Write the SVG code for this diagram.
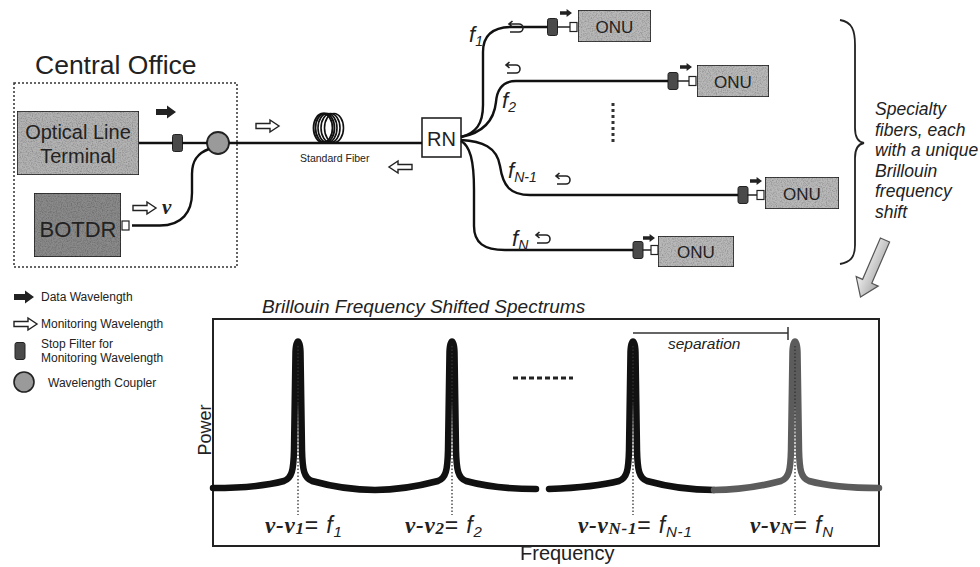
<svg xmlns="http://www.w3.org/2000/svg" xmlns:xlink="http://www.w3.org/1999/xlink" width="980" height="567" viewBox="0 0 980 567">
<style>
text{font-family:"Liberation Sans",Arial,sans-serif;fill:#222}
.box{stroke:#222;stroke-width:1.6}
.olt{fill:#b3b3b3}
.bot{fill:#8a8a8a}
.onu{fill:#b9b9b9}
.fib{fill:none;stroke:#111;stroke-width:2.4}
.leg{font-size:12px}
.it{font-style:italic}
.sv{font-family:"Liberation Serif","Times New Roman",serif;font-style:italic;font-weight:bold}
.spec{fill:none;stroke-width:6.5;stroke-linecap:round;stroke-linejoin:round}
.dot{stroke:#333;stroke-width:1.3;stroke-dasharray:1.5,2}
.lab{font-size:23px;letter-spacing:0.8px}
</style>
<defs>
<filter id="tex" x="0" y="0" width="1" height="1">
<feTurbulence type="fractalNoise" baseFrequency="0.8" numOctaves="2" seed="3" result="n"/>
<feColorMatrix in="n" type="matrix" values="0 0 0 0 0  0 0 0 0 0  0 0 0 0 0  0 0 0 -0.9 0.55" result="a"/>
<feComposite in="a" in2="SourceGraphic" operator="in" result="t"/>
<feMerge><feMergeNode in="SourceGraphic"/><feMergeNode in="t"/></feMerge>
</filter>
<path id="ha" d="M0,-2.5 H14 V-6 L23,0 L14,6 V2.5 H0 Z" fill="#fff" stroke="#222" stroke-width="1.4"/>
<path id="fa" d="M0,-3 H11 V-6.5 L20,0 L11,6.5 V3 H0 Z" fill="#222"/>
<rect id="flt" x="-5" y="-8.5" width="10" height="17" rx="2" fill="#4a4a4a" stroke="#222" stroke-width="1"/>
<rect id="port" x="0" y="0" width="7" height="9" fill="#fff" stroke="#222" stroke-width="1.2"/>
<path id="ut" d="M3.5,-3 L0,0 L3.5,3 M0,0 H10 A4,4 0 0 1 10,8 H1" fill="none" stroke="#222" stroke-width="1.6"/>
<linearGradient id="bg" x1="0" y1="0" x2="1" y2="0">
<stop offset="0" stop-color="#f2f2f2"/><stop offset="1" stop-color="#a8a8a8"/>
</linearGradient>
</defs>

<!-- Central office -->
<g id="central-office">
<text x="35" y="74" font-size="26.5">Central Office</text>
<rect x="14" y="83" width="223" height="184" fill="none" stroke="#333" stroke-width="1.5" stroke-dasharray="2,2"/>
</g>
<g id="olt">
<rect class="box olt" x="17" y="111" width="122" height="64" filter="url(#tex)"/>
<text x="78" y="139" font-size="20" text-anchor="middle">Optical Line</text>
<text x="78" y="163" font-size="20" text-anchor="middle">Terminal</text>
</g>
<g id="botdr">
<rect class="box bot" x="34" y="193" width="87" height="64" filter="url(#tex)"/>
<text x="78" y="237" font-size="22" text-anchor="middle">BOTDR</text>
<use href="#port" x="122" y="221"/>
</g>
<g id="olt-filter"><use href="#flt" x="177.5" y="143"/></g>
<g id="coupler"><circle cx="218" cy="143" r="11" fill="#9a9a9a" stroke="#222" stroke-width="1.8"/></g>
<g id="rn">
<rect x="422" y="118" width="39" height="39" fill="#fff" stroke="#222" stroke-width="1.6"/>
<text x="441.5" y="146" font-size="20" text-anchor="middle">RN</text>
</g>
<g id="coil">
<ellipse cx="323" cy="128" rx="9.5" ry="14.5" fill="none" stroke="#111" stroke-width="1.8"/>
<ellipse cx="325" cy="128" rx="9.5" ry="14.5" fill="none" stroke="#111" stroke-width="1.8"/>
<ellipse cx="327.5" cy="128" rx="9.5" ry="14.5" fill="none" stroke="#111" stroke-width="1.6"/>
<ellipse cx="330.5" cy="128" rx="9.5" ry="14.5" fill="none" stroke="#111" stroke-width="1.6"/>
<ellipse cx="334" cy="128" rx="9.5" ry="14.5" fill="none" stroke="#111" stroke-width="1.6"/>
<text x="300" y="162" font-size="10.5" fill="#333">Standard Fiber</text>
</g>

<!-- ONUs -->
<g id="onu1">
<use href="#flt" x="552.5" y="27"/>
<line x1="557" y1="27" x2="570" y2="27" stroke="#222" stroke-width="1.5"/>
<use href="#port" x="570" y="22.5"/>
<rect class="box onu" x="578" y="10" width="73" height="32" filter="url(#tex)"/>
<text x="614.5" y="32.5" font-size="17" text-anchor="middle">ONU</text>
<use href="#fa" transform="translate(560,13) scale(0.6)"/>
</g>
<g id="onu2">
<use href="#flt" x="673" y="81"/>
<line x1="677.5" y1="81" x2="689" y2="81" stroke="#222" stroke-width="1.5"/>
<use href="#port" x="689" y="76.5"/>
<rect class="box onu" x="697" y="65" width="72" height="32" filter="url(#tex)"/>
<text x="733" y="87.5" font-size="17" text-anchor="middle">ONU</text>
<use href="#fa" transform="translate(680,67) scale(0.6)"/>
</g>
<g id="onu3">
<use href="#flt" x="743" y="195"/>
<line x1="747.5" y1="195" x2="757" y2="195" stroke="#222" stroke-width="1.5"/>
<use href="#port" x="757" y="190.5"/>
<rect class="box onu" x="765" y="177" width="74" height="32" filter="url(#tex)"/>
<text x="802" y="199.5" font-size="17" text-anchor="middle">ONU</text>
<use href="#fa" transform="translate(750,181) scale(0.6)"/>
</g>
<g id="onu4">
<use href="#flt" x="638" y="250"/>
<line x1="642.5" y1="250" x2="651" y2="250" stroke="#222" stroke-width="1.5"/>
<use href="#port" x="651" y="245.5"/>
<rect class="box onu" x="658" y="236" width="76" height="31" filter="url(#tex)"/>
<text x="696" y="257.5" font-size="17" text-anchor="middle">ONU</text>
<use href="#fa" transform="translate(643,238) scale(0.6)"/>
</g>

<!-- connectors (fibers) -->
<g id="connectors">
<path class="fib" d="M139,143 H173"/>
<path class="fib" d="M182,143 H207"/>
<path class="fib" d="M132,225.5 H160 C182,225.5 192,212 192,193 L192,174 C192,160 198,153 209,149"/>
<path class="fib" d="M229,143 H422"/>
<path class="fib" d="M461,137 C476,133 483,124 483,105 L483,52 C483,36 492,27 512,27 L547.5,27"/>
<path class="fib" d="M461,137 C482,133 494,121 496,102 C497,89 503,81 516,81 L668,81"/>
<path class="fib" d="M461,140 C482,141 497,147 500,166 C503,186 510,195 530,195 L738,195"/>
<path class="fib" d="M461,141 C470,146 474,160 474,190 L474,226 C474,243 484,250 505,250 L633,250" stroke="#6a6a6a"/>
<line x1="613" y1="103" x2="613" y2="145" stroke="#333" stroke-width="3" stroke-dasharray="3,3"/>
</g>

<!-- signal direction arrows and labels -->
<g id="arrows">
<use href="#fa" x="156" y="112"/>
<use href="#ha" x="133" y="208"/>
<text x="162" y="214" font-size="21" class="sv">v</text>
<use href="#ha" x="256" y="126"/>
<use href="#ha" transform="translate(412,167) scale(-1,1)"/>
<use href="#ut" x="509" y="24"/>
<use href="#ut" x="506" y="65"/>
<use href="#ut" x="556" y="176"/>
<use href="#ut" x="536" y="235"/>
<text x="469" y="42" font-size="22" class="it">f<tspan font-size="14" dy="4">1</tspan></text>
<text x="502" y="108" font-size="22" class="it">f<tspan font-size="14" dy="4">2</tspan></text>
<text x="508" y="178" font-size="22" class="it">f<tspan font-size="14" dy="4">N-1</tspan></text>
<text x="512" y="246" font-size="22" class="it">f<tspan font-size="14" dy="4">N</tspan></text>
</g>

<!-- brace and note -->
<g id="note">
<path d="M840,20 C852,22 855,30 855,45 L855,128 C855,138 858,142 864,143 C858,144 855,148 855,158 L855,245 C855,258 850,262 840,264" fill="none" stroke="#222" stroke-width="1.8"/>
<text font-size="17.5" class="it" fill="#333">
<tspan x="875" y="115">Specialty</tspan>
<tspan x="875" y="135.5">fibers, each</tspan>
<tspan x="875" y="156">with a unique</tspan>
<tspan x="875" y="176.5">Brillouin</tspan>
<tspan x="875" y="197">frequency</tspan>
<tspan x="875" y="217.5">shift</tspan>
</text>
<polygon transform="translate(885,240) rotate(23.3)" points="-5,0 5,0 5,45 12,45 0,62 -12,45 -5,45" fill="url(#bg)" stroke="#555" stroke-width="1.2"/>
</g>

<!-- legend -->
<g id="legend">
<use href="#fa" x="14" y="297"/>
<text class="leg" x="41" y="301">Data Wavelength</text>
<use href="#ha" x="14" y="324"/>
<text class="leg" x="41" y="328">Monitoring Wavelength</text>
<use href="#flt" x="20" y="351"/>
<text class="leg" x="41" y="348">Stop Filter for</text>
<text class="leg" x="41" y="362">Monitoring Wavelength</text>
<circle cx="24" cy="382" r="10" fill="#9a9a9a" stroke="#222" stroke-width="1.6"/>
<text class="leg" x="48" y="387">Wavelength Coupler</text>
</g>

<!-- spectrum chart -->
<g id="chart">
<text x="262" y="313" font-size="19" class="it">Brillouin Frequency Shifted Spectrums</text>
<rect x="213" y="319" width="666" height="227" fill="none" stroke="#222" stroke-width="2"/>
<text transform="translate(211,430) rotate(-90)" font-size="18" text-anchor="middle">Power</text>
<text x="520" y="560" font-size="20">Frequency</text>
<path class="spec" stroke="#111" d="M213,488 C240,488 265,486 284,481 C292,478 293.5,470 294,450 L295.5,352 C296,338 300,338 300.5,352 L302,450 C302.5,470 304,478 312,481 C330,486 355,490 375,490 C395,490 419,486 438,481 C446,478 447.5,470 448,450 L449.5,352 C450,338 454,338 454.5,352 L456,450 C456.5,470 458,478 466,481 C484,486 510,489 536,489"/>
<path class="spec" stroke="#111" d="M549,489 C575,488 600,486 619,481 C627,478 628.5,470 629,450 L630.5,352 C631,338 635,338 635.5,352 L637,450 C637.5,470 639,478 647,481 C665,486 690,490 714,490"/>
<path class="spec" stroke="#5c5c5c" d="M714,490 C738,490 762,486 781,481 C789,478 790.5,470 791,450 L792.5,352 C793,338 797,338 797.5,352 L799,450 C799.5,470 801,478 809,481 C827,486 850,488 879,488"/>
<line class="dot" x1="298" y1="346" x2="298" y2="515"/>
<line class="dot" x1="452" y1="346" x2="452" y2="515"/>
<line class="dot" x1="633" y1="346" x2="633" y2="515"/>
<line class="dot" x1="795" y1="346" x2="795" y2="515"/>
<line x1="513" y1="378" x2="573" y2="378" stroke="#222" stroke-width="3" stroke-dasharray="5,3"/>
<path d="M633,333 H788 M788,327 V340" fill="none" stroke="#333" stroke-width="1.5"/>
<text x="668" y="349" font-size="15.5" class="it">separation</text>
<text x="265" y="533" class="lab"><tspan class="sv">v-v</tspan><tspan class="sv" font-size="17" dy="1">1</tspan><tspan dy="-1">= </tspan><tspan class="it">f</tspan><tspan class="it" font-size="15" dy="4">1</tspan></text>
<text x="405" y="533" class="lab"><tspan class="sv">v-v</tspan><tspan class="sv" font-size="17" dy="1">2</tspan><tspan dy="-1">= </tspan><tspan class="it">f</tspan><tspan class="it" font-size="15" dy="4">2</tspan></text>
<text x="578" y="533" class="lab"><tspan class="sv">v-v</tspan><tspan class="sv" font-size="17" dy="1">N-1</tspan><tspan dy="-1">= </tspan><tspan class="it">f</tspan><tspan class="it" font-size="15" dy="4">N-1</tspan></text>
<text x="750" y="533" class="lab"><tspan class="sv">v-v</tspan><tspan class="sv" font-size="17" dy="1">N</tspan><tspan dy="-1">= </tspan><tspan class="it">f</tspan><tspan class="it" font-size="15" dy="4">N</tspan></text>
</g>
</svg>
